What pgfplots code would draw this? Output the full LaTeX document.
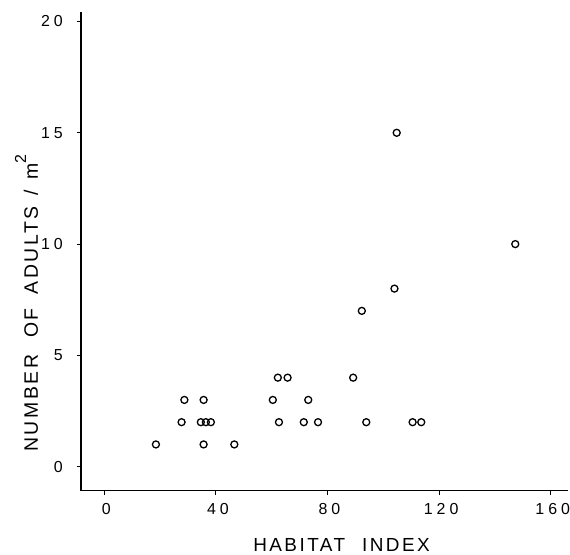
\documentclass[border=0pt]{standalone}
\usepackage{pgfplots}
\pgfplotsset{compat=1.18}
\usepackage{fontspec}
\setmainfont{Liberation Sans}
\newfontfamily\labfont{Liberation Sans}[LetterSpace=13]
\newfontfamily\tickfont{Liberation Sans}[LetterSpace=25]
\begin{document}
\begin{tikzpicture}
\begin{axis}[
  at={(0,0)}, anchor=south west,
  scale only axis, width=487bp, height=479bp,
  xmin=-8.35, xmax=166.2, ymin=-1.078, ymax=20.44,
  axis lines*=left,
  axis line style={line width=1.3bp, black},
  tick align=outside, major tick length=4bp,
  tick style={line width=1bp, black},
  xtick={0,40,80,120,160}, ytick={0,5,10,15,20},
  /pgf/number format/assume math mode=true,
  ticklabel style={font=\fontsize{16}{16}\tickfont},
  yticklabel style={anchor=east, inner sep=0pt, xshift=-14bp},
  xticklabel style={anchor=north, inner sep=0pt, yshift=-8bp, xshift=2bp},
  xlabel={HABITAT\hspace{17bp}INDEX},
  xlabel style={at={(axis description cs:0.535,-0.1134)}, anchor=center, font=\fontsize{19}{19}\labfont},
  ylabel={NUMBER\hspace{17bp}OF\hspace{14bp}ADULTS\hspace{11bp}/\hspace{11bp}m\raisebox{0.6em}{\fontsize{16}{16}\selectfont 2}},
  ylabel style={at={(axis description cs:-0.112,0.392)}, anchor=center, font=\fontsize{19.5}{19.5}\labfont},
  clip=false,
]
\addplot[only marks, mark=o, mark size=3.5bp, mark options={line width=1.3bp, black}] table {
x y
18.5 1
27.7 2
28.7 3
35.6 3
34.6 2
36.4 2
38.2 2
35.6 1
46.6 1
60.4 3
62.2 4
65.7 4
62.6 2
71.5 2
73.1 3
76.6 2
89.2 4
92.3 7
93.9 2
110.5 2
113.6 2
104.0 8
104.8 15
147.3 10
};
\end{axis}
\path (-81bp,-64.3bp) rectangle (489bp,490.7bp);
\end{tikzpicture}
\end{document}
